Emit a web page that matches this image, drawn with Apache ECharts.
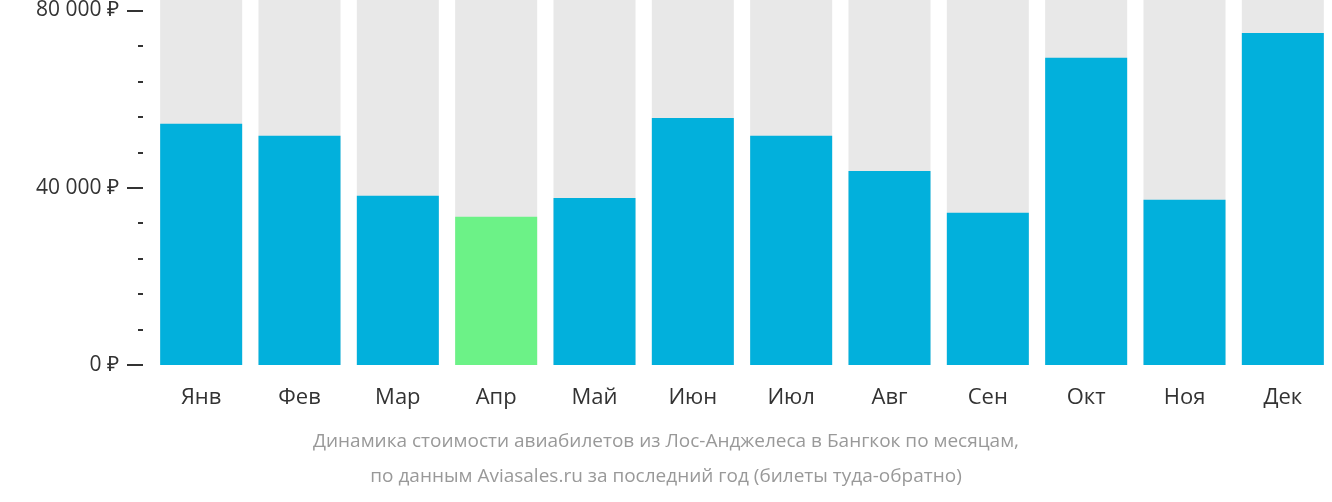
<!DOCTYPE html>
<html><head><meta charset="utf-8">
<script src="https://cdn.jsdelivr.net/npm/echarts@6/dist/echarts.min.js"></script>
<style>html,body{margin:0;padding:0;background:#fff}#c{width:1332px;height:502px}</style>
</head><body><div id="c"></div>
<script>
var months = ['Янв','Фев','Мар','Апр','Май','Июн','Июл','Авг','Сен','Окт','Ноя','Дек'];
var prices = [54200,51500,38000,33300,37500,55500,51500,43600,34200,69000,37100,74600];
var cheapest = 3;
var bgTop = 82000;

var chart = echarts.init(document.getElementById('c'));
var barData = [];
for (var i = 0; i < prices.length; i++) {
	barData.push({value: prices[i], itemStyle: {color: i == cheapest ? '#6cf287' : '#02b0dc'}});
}
var bgData = [];
for (var i = 0; i < prices.length; i++) bgData.push(bgTop);
chart.setOption({
	textStyle: {fontFamily: 'Open Sans'},
	grid: [
		{left: 143, right: 0, top: 9, bottom: 137},
		{left: 152, right: 0, top: 0, bottom: 129}
	],
	xAxis: [
		{gridIndex: 0, type: 'category', data: months, show: false},
		{gridIndex: 1, type: 'category', data: months,
		 axisLine: {show: false}, axisTick: {show: false},
		 axisLabel: {fontSize: 22, color: '#333', margin: 14}}
	],
	yAxis: [
		{gridIndex: 0, type: 'value', min: 0, max: 80000, interval: 40000,
		 axisLine: {show: false}, splitLine: {show: false},
		 axisTick: {show: true, length: 16, lineStyle: {color: '#333', width: 2}},
		 minorTick: {show: true, splitNumber: 5, length: 5, lineStyle: {color: '#333', width: 2}},
		 axisLabel: {fontSize: 21, color: '#333', margin: 24,
			formatter: function(v){ return String(v).replace(/\B(?=(\d{3})+(?!\d))/g, ' ') + ' ₽'; }}},
		{gridIndex: 1, type: 'value', min: -1800, max: bgTop, show: false}
	],
	series: [
		{type: 'bar', xAxisIndex: 1, yAxisIndex: 1, data: bgData, barWidth: 82,
		 itemStyle: {color: '#e8e8e8'}, silent: true},
		{type: 'bar', xAxisIndex: 1, yAxisIndex: 1, data: barData, barWidth: 82, barGap: '-100%'}
	],
	graphic: [
		{type: 'text', left: 'center', top: 432, style: {text: 'Динамика стоимости авиабилетов из Лос-Анджелеса в Бангкок по месяцам,', fill: '#999', font: '19px "Open Sans"', x: 80}},
		{type: 'text', left: 'center', top: 467, style: {text: 'по данным Aviasales.ru за последний год (билеты туда-обратно)', fill: '#999', font: '19px "Open Sans"'}}
	]
});
</script></body></html>
